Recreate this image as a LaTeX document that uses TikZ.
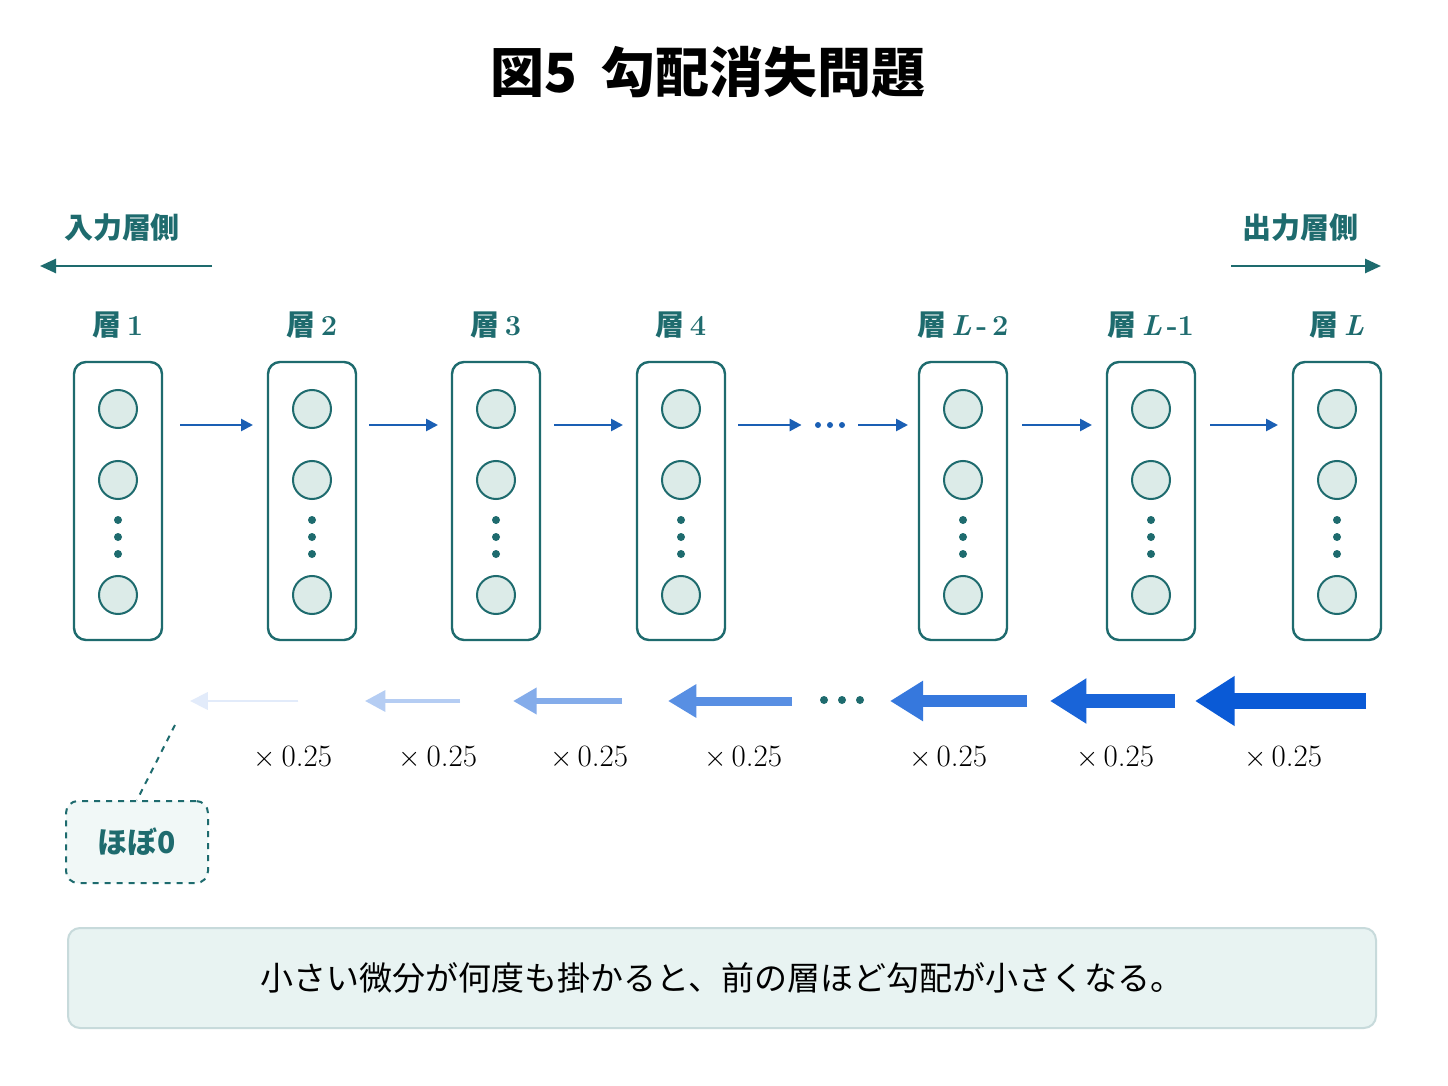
\documentclass[tikz,border=0pt]{standalone}
\usepackage{fontspec}
\newfontfamily\cjk{Noto Sans CJK JP}
\usetikzlibrary{arrows.meta,positioning}
\definecolor{teal}{HTML}{1E6B6E}
\definecolor{cfill}{HTML}{DCEBE8}
\definecolor{fwd}{HTML}{1A5FB4}
\definecolor{bwd}{HTML}{0A5AD6}
\definecolor{note}{HTML}{E8F3F2}
\tikzset{
  layer/.style={draw=teal, line width=1.2pt, rounded corners=6pt, minimum width=44pt, minimum height=139pt},
  unit/.style={circle, draw=teal, fill=cfill, line width=1pt, minimum size=19pt, inner sep=0pt},
  lab/.style={text=teal, font=\cjk\bfseries\fontsize{14.5}{16}\selectfont},
  fw/.style={-{Triangle[length=6pt,width=6pt]}, draw=fwd, line width=1.3pt},
  mul/.style={font=\fontsize{15.5}{17}\selectfont}
}
\begin{document}
\begin{tikzpicture}[x=0.5pt,y=-0.5pt]
\useasboundingbox[fill=white] (0,0) rectangle (1448,1086);

%title
\node[font=\cjk\bfseries\fontsize{27}{30}\selectfont] (title) at (708,72) {図5\ \ 勾配消失問題};

%sides
\node[lab] (inl) at (122,228) {入力層側};
\node[lab] (outl) at (1300,228) {出力層側};
\coordinate (ina) at (212,266); \coordinate (inb) at (40,266);
\coordinate (outa) at (1231,266); \coordinate (outb) at (1381,266);
\draw[teal, line width=1.3pt, -{Triangle[length=8pt,width=7pt]}] (ina) -- (inb);
\draw[teal, line width=1.3pt, -{Triangle[length=8pt,width=7pt]}] (outa) -- (outb);

%layers
\foreach \i/\x/\t in {1/118/1, 2/312/2, 3/496/3, 4/681/4, 5/963/{\textit{L}\,-\,2}, 6/1151/{\textit{L}\,-1}, 7/1337/\textit{L}} {
  \node[layer] (b\i) at (\x,501) {};
  \node[lab] (t\i) at (\x,325) {層\,{\fontspec{Latin Modern Roman}\bfseries\t}};
  \node[unit] (u\i a) at (\x,409) {};
  \node[unit] (u\i b) at (\x,480) {};
  \node[unit] (u\i c) at (\x,595) {};
  \foreach \y in {520,537,554} \fill[teal] (\x,\y) circle (2pt);
}

%forward
\node[minimum width=28pt, inner sep=0pt] (fdots) at (830,425) {};
\foreach \x in {-12,0,12} \fill[fwd] ([xshift=\x*0.5pt]fdots.center) circle (1.5pt);
\draw[fw] (180,425) -- (253,425);
\draw[fw] (369,425) -- (438,425);
\draw[fw] (554,425) -- (623,425);
\draw[fw] (738,425) -- (fdots.west);
\draw[fw] (fdots.east) -- (908,425);
\draw[fw] (1022,425) -- (1092,425);
\draw[fw] (1210,425) -- (1278,425);

%backward
\foreach \a/\b/\w/\c in {298/190/1.2/12, 460/365/2/30, 622/513/3/50, 792/668/4.5/68, 1027/890/6/82, 1175/1050/7/94, 1366/1195/8/100} {
  \draw[draw=bwd!\c!white, fill=bwd!\c!white, line width=\w pt,
    -{Triangle[length=1.6*\w pt+7pt,width=2.2*\w pt+6pt]}] (\a,701) -- (\b,701);
}
\node[minimum width=24pt, inner sep=0pt] (bdots) at (842,700) {};
\foreach \x in {-18,0,18} \fill[teal] ([xshift=\x*0.5pt]bdots.center) circle (2pt);

%factors
\foreach \x in {293,438,589,743,948,1115,1283}
  \node[mul] at (\x,757) {$\times$\,0.25};

%almost zero
\node[draw=teal, dashed, line width=1pt, rounded corners=6pt, fill=note!60!white, minimum width=71pt, minimum height=41pt,
  text=teal, font=\cjk\bfseries\fontsize{15}{17}\selectfont] (zero) at (137,842) {ほぼ0};
\coordinate (zp) at (175,725);
\draw[teal, dashed, line width=1pt] (zp) -- (zero.north);

%note
\node[draw=teal!25, fill=note, line width=1pt, rounded corners=6pt, minimum width=654pt, minimum height=50pt,
  font=\cjk\fontsize{16.5}{18}\selectfont] (msg) at (722,978) {小さい微分が何度も掛かると、前の層ほど勾配が小さくなる。};
\end{tikzpicture}
\end{document}
